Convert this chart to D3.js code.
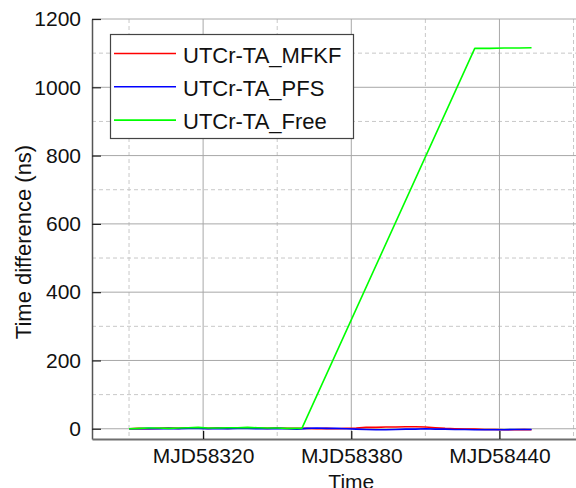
<!DOCTYPE html>
<html>
<head>
<meta charset="utf-8">
<script src="https://cdn.jsdelivr.net/npm/d3@7"></script>
<style>
  html, body { margin: 0; padding: 0; background: #fff; }
  svg { display: block; font-family: "Liberation Sans", Arial, sans-serif; }
</style>
</head>
<body>
<svg id="chart" width="576" height="488"></svg>
<script>
// Sample dates (MJD) for the two steered time scales
const days = [58290, 58294, 58298, 58302, 58306, 58310, 58314, 58318, 58322, 58326,
              58330, 58334, 58338, 58342, 58346, 58350, 58354, 58358, 58362, 58366,
              58370, 58374, 58378, 58382, 58386, 58390, 58394, 58398, 58402, 58406,
              58410, 58414, 58418, 58422, 58426, 58430, 58434, 58438, 58442, 58446,
              58450, 58453];
const mfkf = [0, 1, 0, 1, 2, 1, 3, 2, 1, 2, 1, 2, 3, 2, 1, 2, 1, 1,
              1, 0, 1, 0, 1, 2, 4, 4, 5, 5, 6, 6, 5, 3, 1, 0, -1, -1, -2, -2, -3, -3, -2, -3];
const pfs  = [0, 0, 1, 0, 1, 0, 1, 1, 0, 1, 0, 1, 1, 0, 0, 1, 0, -1,
              1, 2, 1, 1, 0, -1, -2, -3, -3, -2, -1, -1, 0, -1, -1, -2, -2, -3, -3, -3, -3, -2, -2, -2];
// Free-running scale: flat, then a steady drift, then flat again
const freeDays   = [58290, 58294, 58298, 58302, 58306, 58310, 58314, 58318, 58322, 58326,
                    58330, 58334, 58338, 58342, 58346, 58350, 58354, 58358, 58360,
                    58430, 58436, 58442, 58448, 58453];
const freeValues = [0, 1, 2, 2, 1, 2, 3, 4, 2, 2, 3, 3, 4, 3, 2, 2, 1, 1, 1,
                    1114, 1114, 1115, 1115, 1116];

const seriesNames  = ["UTCr-TA_MFKF", "UTCr-TA_PFS", "UTCr-TA_Free"];
const seriesColors = ["#ff0000", "#0000ff", "#00ff00"];

const xMajorTicks = [58320, 58380, 58440];
const xMinorTicks = [58290, 58350, 58410, 58470];
const yMajorTicks = [0, 200, 400, 600, 800, 1000, 1200];
const yMinorTicks = [100, 300, 500, 700, 900, 1100];

const svg = d3.select("#chart");
const plotLeft = 92, plotRight = 576, plotTop = 19, plotBottom = 439;

const x = d3.scaleLinear().domain([58275, 58471]).range([plotLeft, plotRight]);
const y = d3.scaleLinear().domain([-30, 1200]).range([plotBottom, plotTop]);

// Grid: dashed minor lines, solid major lines
const grid = svg.append("g");
grid.selectAll(".xminor").data(xMinorTicks).join("line")
  .attr("x1", d => x(d)).attr("x2", d => x(d)).attr("y1", plotTop).attr("y2", plotBottom)
  .attr("stroke", "#c8c8c8").attr("stroke-width", 1).attr("stroke-dasharray", "4,3");
grid.selectAll(".yminor").data(yMinorTicks).join("line")
  .attr("x1", plotLeft).attr("x2", plotRight).attr("y1", d => y(d)).attr("y2", d => y(d))
  .attr("stroke", "#c8c8c8").attr("stroke-width", 1).attr("stroke-dasharray", "4,3");
grid.selectAll(".xmajor").data(xMajorTicks).join("line")
  .attr("x1", d => x(d)).attr("x2", d => x(d)).attr("y1", plotTop).attr("y2", plotBottom)
  .attr("stroke", "#a8a8a8").attr("stroke-width", 1);
grid.selectAll(".ymajor").data(yMajorTicks).join("line")
  .attr("x1", plotLeft).attr("x2", plotRight).attr("y1", d => y(d)).attr("y2", d => y(d))
  .attr("stroke", "#a8a8a8").attr("stroke-width", 1);

// Data lines (drawn in series order so the free scale sits on top)
const line = d3.line().x(d => x(d[0])).y(d => y(d[1]));
const seriesData = [
  d3.zip(days, mfkf),
  d3.zip(days, pfs),
  d3.zip(freeDays, freeValues)
];
svg.append("g").selectAll("path").data(seriesData).join("path")
  .attr("d", line)
  .attr("fill", "none")
  .attr("stroke", (d, i) => seriesColors[i])
  .attr("stroke-width", 1.6)
  .attr("stroke-linejoin", "round");

// Axes with inward ticks
const yAxis = svg.append("g").attr("transform", `translate(${plotLeft},0)`)
  .call(d3.axisLeft(y).tickValues(yMajorTicks).tickFormat(d3.format("d"))
    .tickSize(-9).tickPadding(11).tickSizeOuter(0));
yAxis.select(".domain").attr("stroke", "#555").attr("stroke-width", 1.5);
yAxis.selectAll(".tick line").attr("stroke", "#222").attr("stroke-width", 1.2);
yAxis.selectAll(".tick text").attr("font-size", 21).attr("fill", "#111")
  .attr("font-family", "Liberation Sans, Arial, sans-serif");

const xAxis = svg.append("g").attr("transform", `translate(0,${plotBottom})`)
  .call(d3.axisBottom(x).tickValues(xMajorTicks).tickFormat(d => "MJD" + d)
    .tickSize(-8).tickPadding(9).tickSizeOuter(0));
xAxis.select(".domain").attr("stroke", "#6e6e6e").attr("stroke-width", 2);
xAxis.selectAll(".tick line").attr("stroke", "#111").attr("stroke-width", 1.2);
xAxis.selectAll(".tick text").attr("font-size", 21).attr("fill", "#111")
  .attr("font-family", "Liberation Sans, Arial, sans-serif");

// Axis titles
svg.append("text").attr("x", x(58380)).attr("y", 489)
  .attr("text-anchor", "middle").attr("font-size", 21).attr("fill", "#111").text("Time");
svg.append("text").attr("transform", `translate(31,242) rotate(-90)`)
  .attr("text-anchor", "middle").attr("font-size", 22).attr("fill", "#111")
  .text("Time difference (ns)");

// Legend
const legend = svg.append("g");
legend.append("rect").attr("x", 110.5).attr("y", 34.5).attr("width", 243).attr("height", 104)
  .attr("fill", "#fff").attr("stroke", "#444").attr("stroke-width", 1.2);
seriesNames.forEach((name, i) => {
  const ly = 53.5 + i * 33.3;
  legend.append("line").attr("x1", 114).attr("x2", 176).attr("y1", ly).attr("y2", ly)
    .attr("stroke", seriesColors[i]).attr("stroke-width", 1.6);
  legend.append("text").attr("x", 183).attr("y", ly + 9).attr("font-size", 22)
    .attr("fill", "#111").text(name);
});
</script>
</body>
</html>
